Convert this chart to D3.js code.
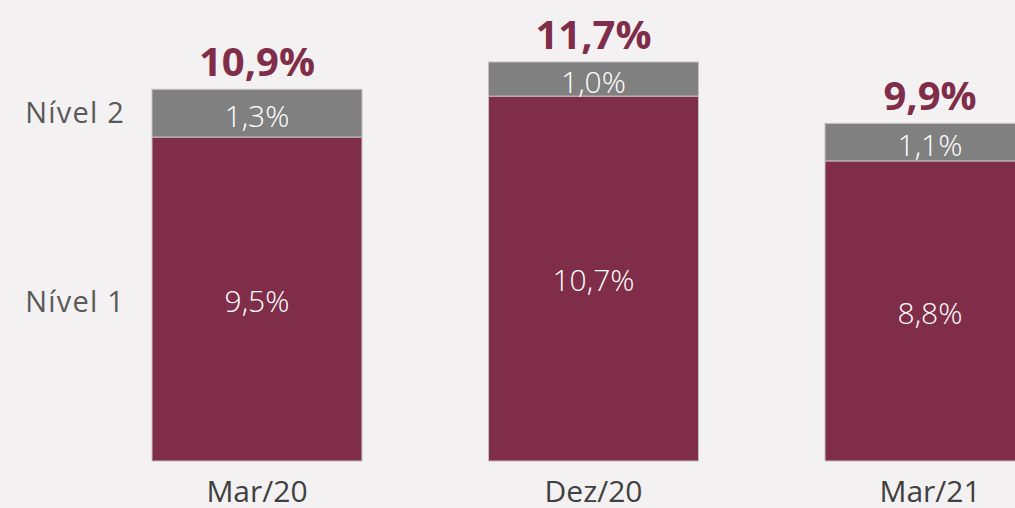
<!DOCTYPE html>
<html>
<head>
<meta charset="utf-8">
<script src="https://cdn.jsdelivr.net/npm/d3@7"></script>
<style>
    body { margin: 0; background: #f4f1f2; }
    svg { display: block; font-family: "Open Sans", "Noto Sans", sans-serif; }
</style>
</head>
<body>
<div id="chart"></div>
<script>
var periods = ["Mar/20", "Dez/20", "Mar/21"];
var nivel1 = [9.5, 10.7, 8.8];
var nivel2 = [1.3, 1.0, 1.1];
var totals = [10.9, 11.7, 9.9];
var seriesNames = ["Nível 1", "Nível 2"];

var width = 1015, height = 508;
var fmt = function(v) { return v.toFixed(1).replace(".", ",") + "%" };

var data = periods.map(function(p, i) {
    return {period: p, n1: nivel1[i], n2: nivel2[i], total: totals[i]};
});

var svg = d3.select("#chart")
    .append("svg")
    .attr("width", width)
    .attr("height", height);

svg.append("rect")
    .attr("width", width)
    .attr("height", height)
    .attr("fill", "#f4f1f2");

var xScale = d3.scaleBand()
    .domain(periods)
    .range([152, 1035])
    .paddingInner(0.376)
    .paddingOuter(0);

var yScale = d3.scaleLinear()
    .domain([0, 11.7])
    .range([461, 62]);

// Nível 1 segment
svg.selectAll(".bar1")
    .data(data)
    .enter().append("rect")
    .attr("x", function(d) { return xScale(d.period) })
    .attr("y", function(d) { return yScale(d.n1) })
    .attr("width", xScale.bandwidth())
    .attr("height", function(d) { return yScale(0) - yScale(d.n1) })
    .attr("fill", "#7f2d48")
    .attr("stroke", "#c4c0c2")
    .attr("stroke-width", 1);

// Nível 2 segment sits on top, up to the total
svg.selectAll(".bar2")
    .data(data)
    .enter().append("rect")
    .attr("x", function(d) { return xScale(d.period) })
    .attr("y", function(d) { return yScale(d.total) })
    .attr("width", xScale.bandwidth())
    .attr("height", function(d) { return yScale(d.n1) - yScale(d.total) })
    .attr("fill", "#808080")
    .attr("stroke", "#c4c0c2")
    .attr("stroke-width", 1);

svg.selectAll(".lab1")
    .data(data)
    .enter().append("text")
    .attr("x", function(d) { return xScale(d.period) + xScale.bandwidth() / 2 })
    .attr("y", function(d) { return (yScale(0) + yScale(d.n1)) / 2 })
    .attr("dy", "0.42em")
    .attr("text-anchor", "middle")
    .attr("fill", "#ffffff")
    .style("font-size", "30px")
    .style("font-weight", 300)
    .text(function(d) { return fmt(d.n1) });

svg.selectAll(".lab2")
    .data(data)
    .enter().append("text")
    .attr("x", function(d) { return xScale(d.period) + xScale.bandwidth() / 2 })
    .attr("y", function(d) { return (yScale(d.n1) + yScale(d.total)) / 2 })
    .attr("dy", "0.45em")
    .attr("text-anchor", "middle")
    .attr("fill", "#ffffff")
    .style("font-size", "30px")
    .style("font-weight", 300)
    .text(function(d) { return fmt(d.n2) });

svg.selectAll(".total")
    .data(data)
    .enter().append("text")
    .attr("x", function(d) { return xScale(d.period) + xScale.bandwidth() / 2 })
    .attr("y", function(d) { return yScale(d.total) - 13 })
    .attr("text-anchor", "middle")
    .attr("fill", "#7f2d48")
    .style("font-size", "40px")
    .style("font-weight", "bold")
    .text(function(d) { return fmt(d.total) });

// category axis, no line or ticks
var xAxis = svg.append("g")
    .attr("transform", "translate(0,461)")
    .call(d3.axisBottom(xScale).tickSize(0).tickPadding(0));
xAxis.select(".domain").remove();
xAxis.selectAll("text")
    .attr("y", 41)
    .attr("dy", 0)
    .attr("fill", "#404040")
    .style("font-family", "\"Open Sans\", \"Noto Sans\", sans-serif")
    .style("font-size", "30px");

// series labels at the left of the first bar
var first = data[0];
var legendY = [
    (yScale(0) + yScale(first.n1)) / 2,
    (yScale(first.n1) + yScale(first.total)) / 2
];
svg.selectAll(".legend")
    .data(seriesNames)
    .enter().append("text")
    .attr("x", 125)
    .attr("y", function(d, i) { return legendY[i] })
    .attr("dy", function(d, i) { return i === 0 ? "0.44em" : "0.35em" })
    .attr("text-anchor", "end")
    .attr("fill", "#595959")
    .style("font-size", "29px")
    .style("letter-spacing", "1.2px")
    .text(function(d) { return d });
</script>
</body>
</html>
